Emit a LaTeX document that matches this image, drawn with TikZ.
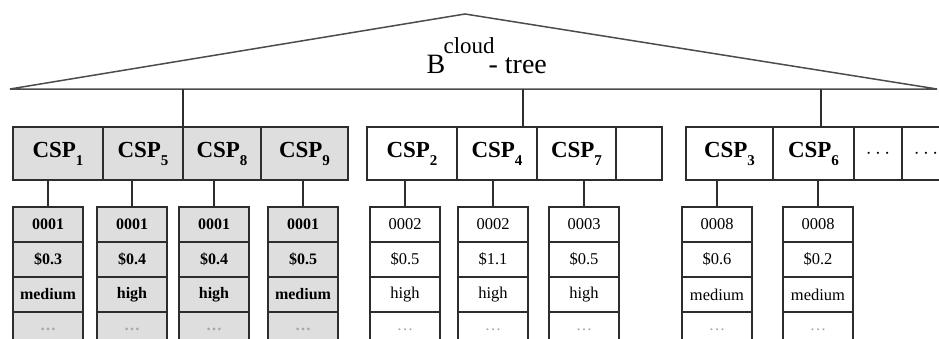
\documentclass[tikz,border=0pt]{standalone}
\usepackage{fontspec}
\setmainfont{Liberation Serif}
\usepackage{tikz}
\usetikzlibrary{positioning}

\definecolor{cellgray}{RGB}{222,222,222}
\definecolor{linegray}{RGB}{45,45,45}

\newcommand{\cspsub}[1]{\raisebox{-8pt}{\fontsize{15}{15}\selectfont #1}}

\begin{document}
\begin{tikzpicture}[x=1pt,y=-1pt,line width=1.2pt,draw=linegray,
                    csp/.style={draw,minimum height=53pt,inner sep=0pt,outer sep=0pt,
                                font=\bfseries\fontsize{23}{23}\selectfont},
                    gray csp/.style={csp,fill=cellgray},
                    rec/.style={draw,minimum width=70pt,minimum height=35pt,inner sep=0pt,outer sep=0pt,
                                font=\fontsize{16.5}{16.5}\selectfont},
                    gray rec/.style={rec,fill=cellgray,font=\bfseries\fontsize{16}{16}\selectfont},
                    title/.style={anchor=base west,inner sep=0pt,font=\fontsize{28}{28}\selectfont}]
\useasboundingbox (0,0) rectangle (939,338);
\clip (0,0) rectangle (939,338);

% the index tree on top
\coordinate (apex) at (465,14);
\coordinate (bl) at (10,89);
\coordinate (br) at (937,89);
\draw[line width=1.5pt,draw=black!70] (bl) -- (apex) -- (br) -- cycle;
\node[title] (b) at (426,73) {B};
\node[title,font=\fontsize{23}{23}\selectfont] (cloud) at (443,53) {cloud};
\node[title] (tree) at (488,73) {- tree};

% leaf nodes of the tree
\node[gray csp,minimum width=90pt] (c1) at (58,153.5) {CSP\cspsub{1}};
\node[gray csp,minimum width=80pt] (c5) at (143,153.5) {CSP\cspsub{5}};
\node[gray csp,minimum width=78pt] (c8) at (222,153.5) {CSP\cspsub{8}};
\node[gray csp,minimum width=87pt] (c9) at (304.5,153.5) {CSP\cspsub{9}};

\node[csp,minimum width=90pt] (c2) at (412,153.5) {CSP\cspsub{2}};
\node[csp,minimum width=80pt] (c4) at (497,153.5) {CSP\cspsub{4}};
\node[csp,minimum width=79pt] (c7) at (576.5,153.5) {CSP\cspsub{7}};
\node[csp,minimum width=46pt] (e1) at (639,153.5) {};

\node[csp,minimum width=87pt] (c3) at (729.5,153.5) {CSP\cspsub{3}};
\node[csp,minimum width=81pt] (c6) at (813.5,153.5) {CSP\cspsub{6}};
\node[csp,minimum width=48pt,font=\fontsize{20}{20}\selectfont] (d1) at (878,153.5) {$\cdots$};
\node[csp,minimum width=48pt,font=\fontsize{20}{20}\selectfont] (d2) at (926,153.5) {$\cdots$};

\coordinate (t1) at (183,89);
\coordinate (t2) at (523,89);
\coordinate (t3) at (821,89);
\draw (t1) -- (t1 |- c5.north);
\draw (t2) -- (t2 |- c4.north);
\draw (t3) -- (t3 |- c6.north);

% provider records
\foreach \n/\c/\x/\id/\pr/\lv/\st in {r1/c1/48/0001/\$0.3/medium/gray rec,
                                     r5/c5/132/0001/\$0.4/high/gray rec,
                                     r8/c8/214/0001/\$0.4/high/gray rec,
                                     r9/c9/303/0001/\$0.5/medium/gray rec,
                                     r2/c2/405/0002/\$0.5/high/rec,
                                     r4/c4/493/0002/\$1.1/high/rec,
                                     r7/c7/584/0003/\$0.5/high/rec,
                                     r3/c3/717/0008/\$0.6/medium/rec,
                                     r6/c6/818/0008/\$0.2/medium/rec}{
  \node[\st] (\n a) at (\x,224.5) {\id};
  \node[\st,below=0pt of \n a] (\n b) {\pr};
  \node[\st,below=0pt of \n b] (\n c) {\lv};
  \node[\st,below=0pt of \n c,text=black!35] (\n d) {\dots};
  \draw (\n a.north) -- (\n a.north |- \c.south);
}
\end{tikzpicture}
\end{document}
